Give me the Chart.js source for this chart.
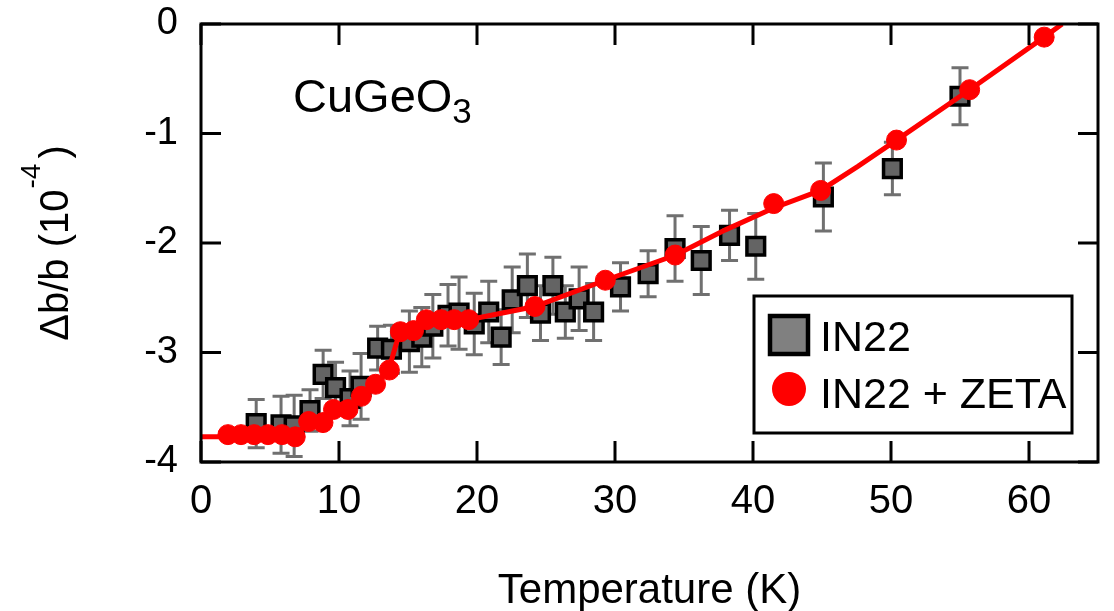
<!DOCTYPE html>
<html>
<head>
<meta charset="utf-8">
<script src="https://cdn.jsdelivr.net/npm/chart.js@4/dist/chart.umd.min.js"></script>
<style>
  body { margin: 0; background: #fff; }
  canvas { display: block; }
</style>
</head>
<body>
<canvas id="myChart" width="1114" height="611"></canvas>
<script>
// IN22 data (squares with error bars)
const in22T = [4.0, 5.8, 6.75, 7.9, 8.85, 9.75, 10.8, 11.6, 12.8, 13.8, 15.1, 16.0, 16.8, 17.9, 18.7, 19.8, 20.85, 21.75, 22.55, 23.65, 24.6, 25.5, 26.4, 27.4, 28.45, 30.4, 32.4, 34.35, 36.25, 38.3, 40.2, 45.1, 50.1, 55.0];
const in22Y = [-3.65, -3.66, -3.67, -3.53, -3.2, -3.32, -3.42, -3.31, -2.96, -2.97, -2.9, -2.86, -2.76, -2.66, -2.64, -2.74, -2.63, -2.86, -2.52, -2.39, -2.64, -2.39, -2.63, -2.51, -2.63, -2.4, -2.28, -2.05, -2.16, -1.93, -2.03, -1.58, -1.32, -0.66];
const in22Err = [0.22, 0.26, 0.28, 0.19, 0.22, 0.23, 0.25, 0.3, 0.2, 0.22, 0.28, 0.27, 0.29, 0.28, 0.33, 0.28, 0.28, 0.25, 0.3, 0.29, 0.25, 0.26, 0.24, 0.29, 0.26, 0.22, 0.21, 0.3, 0.31, 0.23, 0.3, 0.31, 0.24, 0.26];

// IN22 + ZETA (red circles)
const zetaT = [1.95, 2.9, 3.85, 4.85, 5.87, 6.83, 7.8, 8.84, 9.6, 10.65, 11.62, 12.65, 13.65, 14.45, 15.4, 16.33, 17.4, 18.35, 19.4, 24.2, 29.3, 34.36, 41.5, 44.9, 50.4, 55.7, 61.1];
const zetaY = [-3.75, -3.75, -3.75, -3.75, -3.75, -3.77, -3.63, -3.64, -3.52, -3.52, -3.4, -3.29, -3.16, -2.81, -2.8, -2.7, -2.7, -2.7, -2.7, -2.58, -2.34, -2.11, -1.64, -1.52, -1.06, -0.6, -0.12];

// red fit curve
const fitT = [0, 6.8, 7.8, 8.8, 9.6, 10.6, 11.6, 12.6, 13.6, 14.4, 15.4, 16.3, 19.4, 24.2, 29.3, 34.4, 38.0, 41.5, 44.9, 47.6, 50.4, 55.7, 61.1, 62.4];
const fitY = [-3.77, -3.77, -3.63, -3.63, -3.52, -3.52, -3.4, -3.29, -3.16, -2.81, -2.8, -2.7, -2.7, -2.58, -2.34, -2.11, -1.88, -1.68, -1.52, -1.3, -1.06, -0.6, -0.12, 0];

const xTickStep = 10;
const yTickStep = 1;

const FONT = "'Liberation Sans', Arial, sans-serif";

const toXY = (xs, ys) => xs.map((x, i) => ({ x: x, y: ys[i] }));

// frame, inward ticks, error bars, titles, label, legend
const decor = {
  id: "decor",
  beforeDatasetsDraw(chart) {
    const ctx = chart.ctx;
    const xs = chart.scales.x, ys = chart.scales.y;
    ctx.save();
    ctx.strokeStyle = "#707070";
    ctx.lineWidth = 3;
    for (let i = 0; i < in22T.length; i++) {
      const px = xs.getPixelForValue(in22T[i]);
      const top = ys.getPixelForValue(in22Y[i] + in22Err[i]);
      const bot = ys.getPixelForValue(in22Y[i] - in22Err[i]);
      ctx.beginPath();
      ctx.moveTo(px, top); ctx.lineTo(px, bot);
      ctx.moveTo(px - 8.5, top); ctx.lineTo(px + 8.5, top);
      ctx.moveTo(px - 8.5, bot); ctx.lineTo(px + 8.5, bot);
      ctx.stroke();
    }
    ctx.restore();
  },
  afterDraw(chart) {
    const ctx = chart.ctx;
    const a = chart.chartArea;
    const xs = chart.scales.x, ys = chart.scales.y;
    ctx.save();
    ctx.strokeStyle = "#000";
    ctx.lineWidth = 3;
    ctx.strokeRect(a.left, a.top, a.right - a.left, a.bottom - a.top);
    // ticks pointing inwards
    ctx.beginPath();
    xs.ticks.forEach(t => {
      const px = xs.getPixelForValue(t.value);
      ctx.moveTo(px, a.bottom); ctx.lineTo(px, a.bottom - 21);
      ctx.moveTo(px, a.top); ctx.lineTo(px, a.top + 21);
    });
    ys.ticks.forEach(t => {
      const py = ys.getPixelForValue(t.value);
      ctx.moveTo(a.left, py); ctx.lineTo(a.left + 20, py);
      ctx.moveTo(a.right, py); ctx.lineTo(a.right - 20, py);
    });
    ctx.stroke();

    ctx.fillStyle = "#000";
    // x title
    ctx.font = "42px " + FONT;
    ctx.textAlign = "center";
    ctx.textBaseline = "alphabetic";
    ctx.fillText("Temperature (K)", (a.left + a.right) / 2, 603);

    // y title with superscript
    ctx.save();
    ctx.translate(68, (a.top + a.bottom) / 2);
    ctx.rotate(-Math.PI / 2);
    ctx.textAlign = "left";
    const mainFont = "40px " + FONT, supFont = "28px " + FONT;
    ctx.font = mainFont;
    const w1 = ctx.measureText("\u0394b/b (10").width;
    const w3 = ctx.measureText(")").width;
    ctx.font = supFont;
    const w2 = ctx.measureText("-4").width;
    let x0 = -(w1 + w2 + 6 + w3) / 2;
    ctx.font = mainFont;
    ctx.fillText("\u0394b/b (10", x0, 0);
    ctx.font = supFont;
    ctx.fillText("-4", x0 + w1 + 1, -28);
    ctx.font = mainFont;
    ctx.fillText(")", x0 + w1 + w2 + 6, 0);
    ctx.restore();

    // compound label
    ctx.textAlign = "left";
    ctx.font = "47px " + FONT;
    ctx.fillText("CuGeO", 293, 112);
    const wc = ctx.measureText("CuGeO").width;
    ctx.font = "35px " + FONT;
    ctx.fillText("3", 293 + wc, 123);

    // legend
    ctx.lineWidth = 3;
    ctx.strokeStyle = "#000";
    ctx.fillStyle = "#fff";
    ctx.fillRect(754, 296, 318, 137);
    ctx.strokeRect(754, 296, 318, 137);
    ctx.fillStyle = "#808080";
    ctx.lineWidth = 4.5;
    ctx.fillRect(770, 316, 38, 38);
    ctx.strokeRect(770, 316, 38, 38);
    ctx.beginPath();
    ctx.arc(789, 389, 17, 0, Math.PI * 2);
    ctx.fillStyle = "#ff0000";
    ctx.fill();
    ctx.fillStyle = "#000";
    ctx.font = "43px " + FONT;
    ctx.fillText("IN22", 820, 351);
    ctx.fillText("IN22 + ZETA", 820, 408);
    ctx.restore();
  }
};

const data = {
  datasets: [
    {
      label: "IN22 + ZETA",
      data: toXY(zetaT, zetaY),
      showLine: false,
      pointStyle: "circle",
      pointRadius: 10,
      pointHoverRadius: 10,
      backgroundColor: "#ff0000",
      borderColor: "#ff0000",
      borderWidth: 1,
      order: 0,
    },
    {
      label: "fit",
      data: toXY(fitT, fitY),
      showLine: true,
      pointRadius: 0,
      borderColor: "#ff0000",
      borderWidth: 5,
      tension: 0,
      order: 1,
    },
    {
      label: "IN22",
      data: toXY(in22T, in22Y),
      showLine: false,
      pointStyle: "rect",
      pointRadius: 12.5,
      pointHoverRadius: 12.5,
      backgroundColor: "#646464",
      borderColor: "#000",
      borderWidth: 3.5,
      order: 2,
    },
  ],
};

const noPad = scale => {
  scale.paddingTop = 0;
  scale.paddingBottom = 0;
  scale.paddingLeft = 0;
  scale.paddingRight = 0;
};

const config = {
  type: "scatter",
  data,
  options: {
    responsive: false,
    devicePixelRatio: 1,
    animation: false,
    events: [],
    layout: { padding: { top: 24, right: -1, left: 0, bottom: 0 } },
    plugins: { legend: { display: false }, tooltip: { enabled: false } },
    scales: {
      x: {
        type: "linear",
        min: 0,
        max: 65,
        grid: { display: false },
        border: { display: false },
        ticks: {
          stepSize: xTickStep,
          includeBounds: false,
          color: "#000",
          font: { family: FONT, size: 40 },
          padding: 8,
          maxRotation: 0,
        },
        afterFit(scale) { scale.height = 149; noPad(scale); },
      },
      y: {
        type: "linear",
        min: -4,
        max: 0,
        grid: { display: false },
        border: { display: false },
        ticks: {
          stepSize: yTickStep,
          color: "#000",
          font: { family: FONT, size: 38 },
          padding: 15,
          callback: v => String(v),
        },
        afterFit(scale) { scale.width = 201; noPad(scale); },
      },
    },
  },
  plugins: [decor],
};

const myChart = new Chart(document.getElementById("myChart"), config);
</script>
</body>
</html>
